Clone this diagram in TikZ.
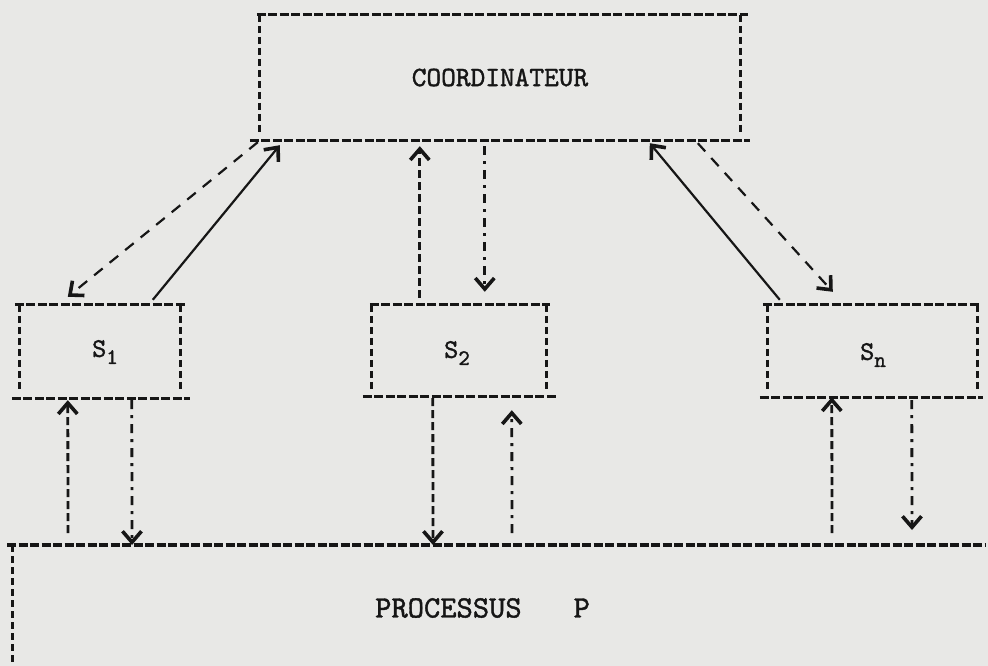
\documentclass[tikz,border=0pt]{standalone}
\usepackage{fontspec}
\usetikzlibrary{arrows.meta,calc}
\newfontfamily\typew[FakeBold=1.3]{lmmono10-regular.otf}
\definecolor{paper}{RGB}{232,232,230}
\definecolor{ink}{RGB}{22,22,22}
\newcommand{\lowsub}[1]{\raisebox{-7pt}{\fontsize{22}{24}\selectfont #1}}
\begin{document}
\begin{tikzpicture}[x=1pt,y=-1pt,
  boxnode/.style={draw=none,inner sep=0pt,font=\typew\fontsize{28}{30}\selectfont,text=ink},
  hline/.style={draw=ink,line width=3.2pt,dash pattern=on 9pt off 2.5pt},
  vline/.style={draw=ink,line width=3pt,dash pattern=on 7pt off 4pt},
  tip/.style={-{Straight Barb[length=11pt,width=19pt,line width=3.6pt]}},
  solidc/.style={draw=ink,line width=2.2pt,tip},
  dashc/.style={draw=ink,line width=2.2pt,dash pattern=on 11pt off 9pt,tip},
  dashv/.style={draw=ink,line width=2.8pt,dash pattern=on 8pt off 4pt,tip},
  dotv/.style={draw=ink,line width=2.8pt,dash pattern=on 9pt off 6pt on 3pt off 6pt,tip},
  lab/.style={inner sep=0pt,text=ink,font=\typew\fontsize{27}{29}\selectfont}
]
\fill[paper] (0,0) rectangle (988,666);
\useasboundingbox (0,0) rectangle (988,666);

% boxes
\node[boxnode,minimum width=480pt,minimum height=125pt] (coord) at (500,77.5) {COORDINATEUR};
\node[boxnode,minimum width=160pt,minimum height=93pt] (s1) at (100,351.5) {};
\node[boxnode,minimum width=174pt,minimum height=91pt] (s2) at (459,350.5) {};
\node[boxnode,minimum width=209pt,minimum height=92pt] (sn) at (872.5,351) {};
\node[boxnode,minimum width=976pt,minimum height=121pt,anchor=north west] (proc) at (12,545) {};

\node[lab] (s1t) at (105,352) {S\lowsub{1}};
\node[lab] (s2t) at (457,353) {S\lowsub{2}};
\node[lab] (snt) at (873,355) {S\lowsub{n}};
\node[lab,anchor=west,font=\typew\fontsize{31}{33}\selectfont] (ptext) at (375,608) {PROCESSUS\hspace{52pt}P};

% coordinator borders
\draw[hline] ($(coord.north west)+(-3,0)$) -- ($(coord.north east)+(8,0)$);
\draw[hline] ($(coord.south west)+(-10,0)$) -- ($(coord.south east)+(10,0)$);
\draw[vline] (coord.north west) -- ($(coord.south west)+(0,-5)$);
\draw[vline] (coord.north east) -- ($(coord.south east)+(0,-5)$);
% S1
\draw[hline] ($(s1.north west)+(-5,0)$) -- ($(s1.north east)+(7,0)$);
\draw[hline] ($(s1.south west)+(-8,0)$) -- ($(s1.south east)+(10,0)$);
\draw[vline] (s1.north west) -- ($(s1.south west)+(0,-6)$);
\draw[vline] (s1.north east) -- ($(s1.south east)+(0,-6)$);
% S2
\draw[hline] ($(s2.north west)+(-2,0)$) -- ($(s2.north east)+(4,0)$);
\draw[hline] ($(s2.south west)+(-9,0)$) -- ($(s2.south east)+(11,0)$);
\draw[vline] (s2.north west) -- ($(s2.south west)+(0,-6)$);
\draw[vline] (s2.north east) -- ($(s2.south east)+(0,-6)$);
% Sn
\draw[hline] ($(sn.north west)+(-5,0)$) -- ($(sn.north east)+(3,0)$);
\draw[hline] ($(sn.south west)+(-8,0)$) -- ($(sn.south east)+(6,0)$);
\draw[vline] (sn.north west) -- ($(sn.south west)+(0,-6)$);
\draw[vline] (sn.north east) -- ($(sn.south east)+(0,-6)$);
% processus
\draw[hline] ($(proc.north west)+(-5,0)$) -- ($(proc.north east)+(-3,0)$);
\draw[vline] (proc.north west) -- (proc.south west);

% coordinator <-> stations
\draw[dashc] ($(coord.south west)+(-2,2)$) -- ($(s1.north west)+(48,-8)$);
\draw[solidc] ($(s1.north west)+(133,-5)$) -- ($(coord.south west)+(20,5)$);
\draw[dashv] ($(s2.north west)+(48,-7)$) -- ($(coord.south west)+(160,6)$);
\draw[dotv] ($(coord.south west)+(225,6)$) -- ($(s2.north west)+(113,-13)$);
\draw[solidc] ($(sn.north west)+(12,-5)$) -- ($(coord.south west)+(390,3)$);
\draw[dashc] ($(coord.south west)+(438,3)$) -- ($(sn.north west)+(65,-13)$);

% stations <-> processus
\draw[dashv] ($(proc.north west)+(56,-12)$) -- ($(s1.south west)+(48,2)$);
\draw[dotv] ($(s1.south west)+(112,2)$) -- ($(proc.north west)+(120,0)$);
\draw[dashv] ($(s2.south west)+(61,2)$) -- ($(proc.north west)+(421,0)$);
\draw[dotv] ($(proc.north west)+(500,-12)$) -- ($(s2.south west)+(140,14)$);
\draw[dashv] ($(proc.north west)+(820,-12)$) -- ($(sn.south west)+(64,0)$);
\draw[dotv] ($(sn.south west)+(144,3)$) -- ($(proc.north west)+(900,-15)$);
\end{tikzpicture}
\end{document}
